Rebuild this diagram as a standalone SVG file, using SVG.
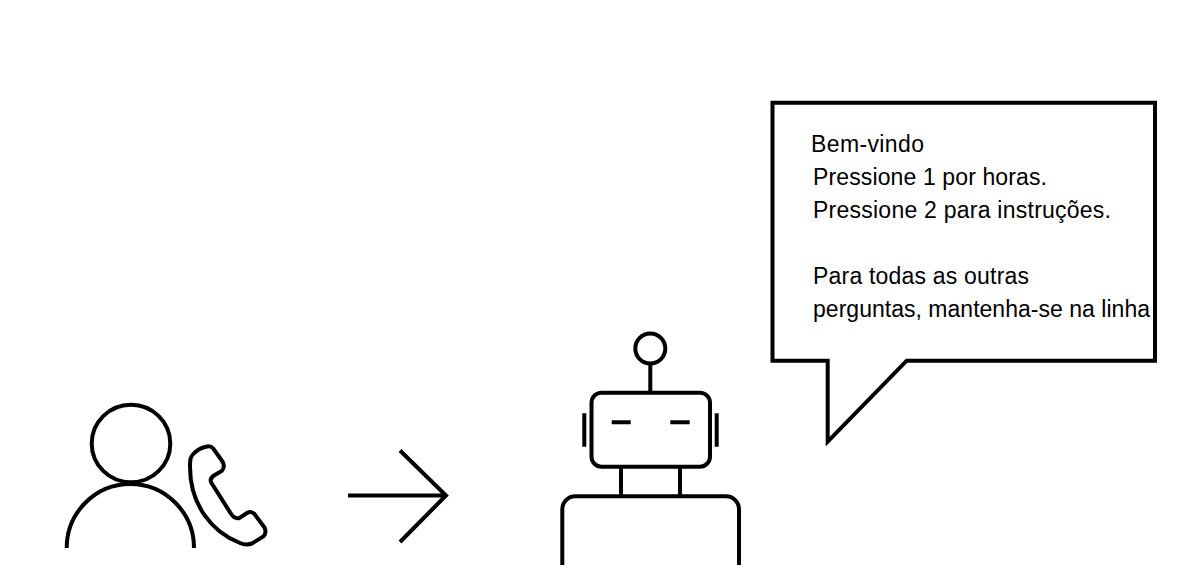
<svg xmlns="http://www.w3.org/2000/svg" width="1178" height="587" viewBox="0 0 1178 587">
<style>
.s{fill:none;stroke:#000;stroke-width:4}
.t{font-family:"Liberation Sans",Arial,sans-serif;font-size:23px;fill:#000}
</style>
<rect width="1178" height="587" fill="#fff"/>
<g id="person">
<ellipse class="s" cx="131" cy="443.5" rx="39.3" ry="38.8"/>
<path class="s" d="M66.7 548A63.65 64 0 0 1 194 548"/>
</g>
<g id="phone">
<path class="s" d="M190 466.7C190 459 190.5 457 193.3 454C197 450 202 447.5 206 446.7Q210.5 445.5 213.3 448.5L222.5 461.5Q225.5 467 221.7 471L214 475.5Q209 479 211.5 483L230.5 513Q234.5 519.5 239.5 518L247 513Q251 510.5 254.5 514L264.5 527.5Q267 533 263.3 536.5L252 543.5Q246 545.5 240 543C212 532 190 505 190 466.7Z"/>
</g>
<g id="connectors">
<path class="s" d="M348 495.5H445M400 450.5L446 495.5L400 542"/>
</g>
<g id="robot">
<circle class="s" cx="650.3" cy="348.5" r="15"/>
<path class="s" d="M650.3 363.5V392.7"/>
<rect class="s" x="591.5" y="392.7" width="118.5" height="74" rx="10"/>
<path class="s" d="M584.3 413.3V446.7M716.7 413.3V446.7M611.7 422.3H630.7M670.3 422.3H689.7M621 467V497M680 467V497"/>
<path class="s" d="M562.3 565V509.3A13 13 0 0 1 575.3 496.3H726A13 13 0 0 1 739 509.3V565"/>
</g>
<g id="bubble">
<path class="s" d="M772.5 102.7H1155V360.7H906.7L827.7 441.7V360.7H772.5Z"/>
<text class="t" x="811" y="151.5" textLength="113">Bem-vindo</text>
<text class="t" x="813" y="184.5" textLength="234">Pressione 1 por horas.</text>
<text class="t" x="813" y="217.5" textLength="298">Pressione 2 para instruções.</text>
<text class="t" x="813" y="283.5" textLength="216">Para todas as outras</text>
<text class="t" x="813" y="316.5" textLength="337">perguntas, mantenha-se na linha</text>
</g>
</svg>
